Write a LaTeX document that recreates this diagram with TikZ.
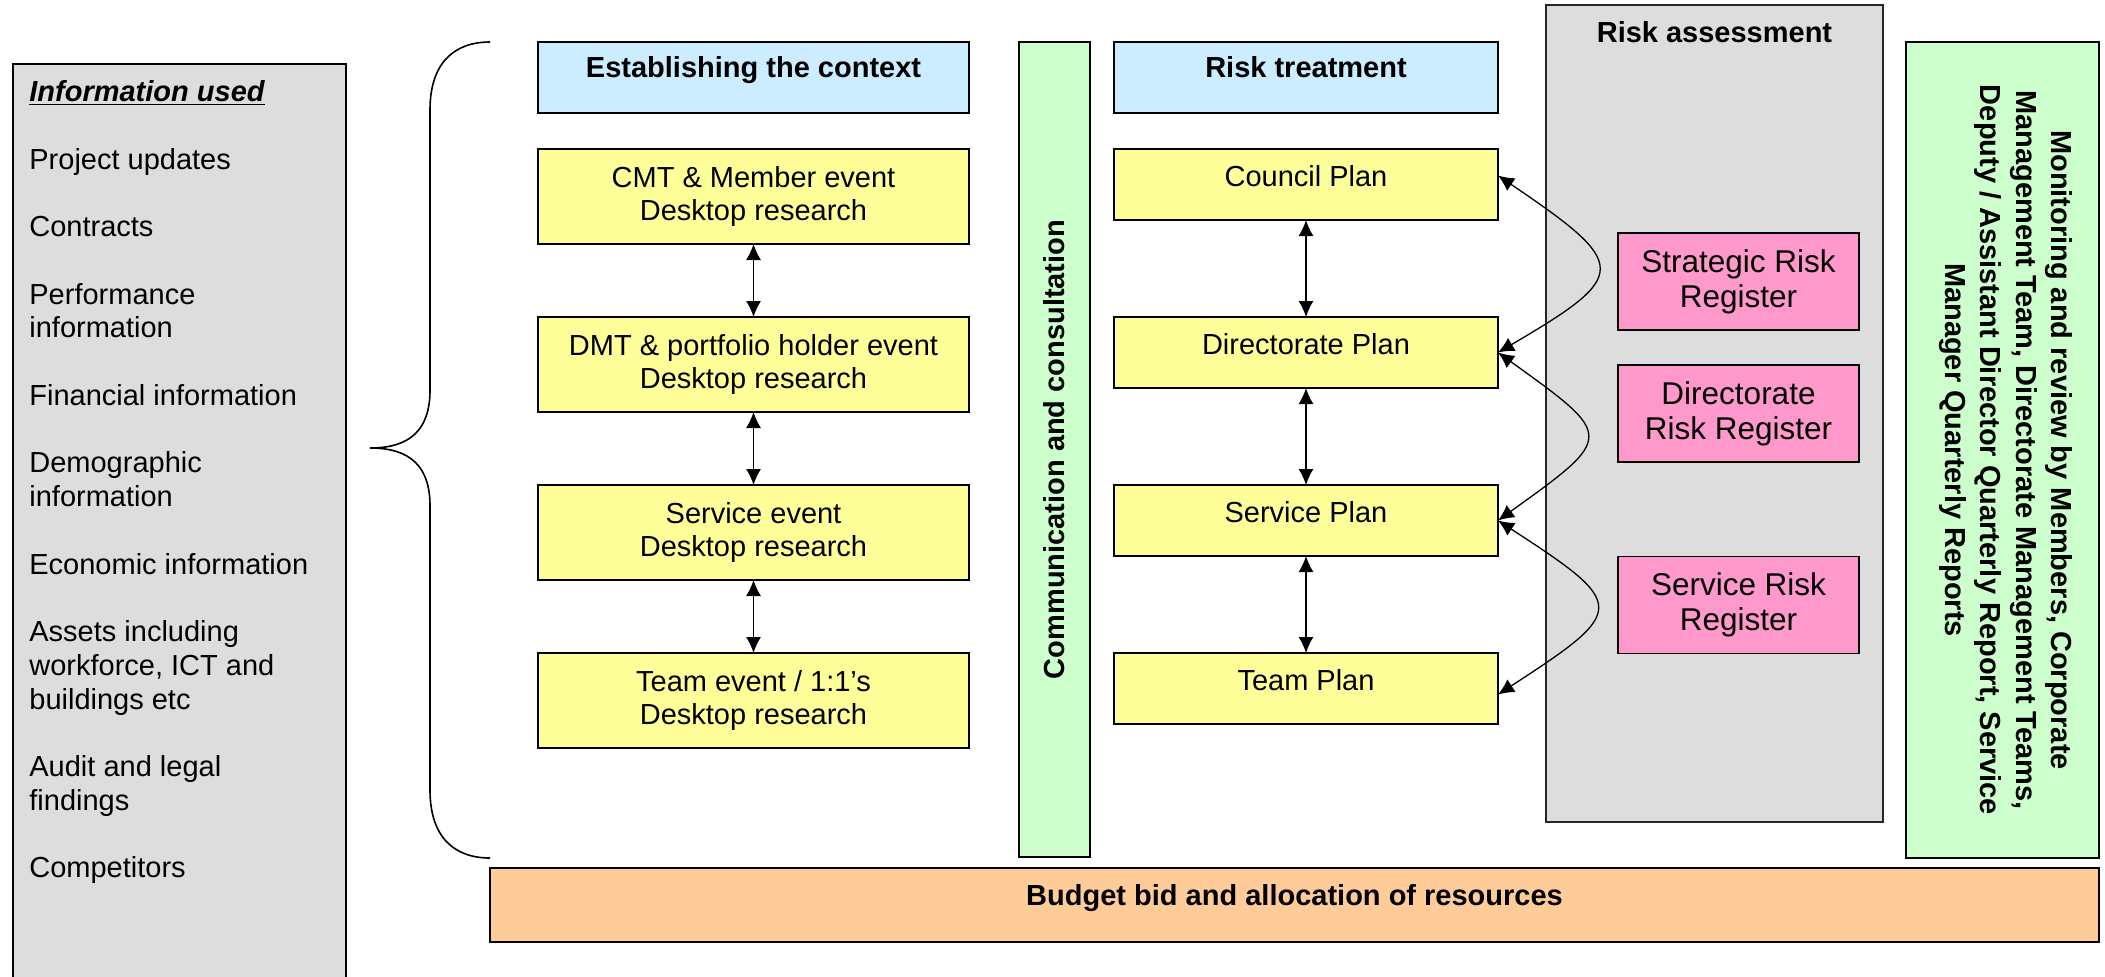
\documentclass[tikz,border=0pt]{standalone}
\usepackage{fontspec}
\setmainfont{Liberation Sans}
\usetikzlibrary{arrows.meta,calc}
\newdimen\pxu \pxu=0.5pt
\definecolor{cgrey}{RGB}{221,221,221}
\definecolor{cblue}{RGB}{204,236,255}
\definecolor{cyellow}{RGB}{255,255,153}
\definecolor{cgreen}{RGB}{204,255,204}
\definecolor{cpink}{RGB}{255,153,204}
\definecolor{corange}{RGB}{255,204,153}
\tikzset{
  basefont/.style={font=\fontsize{14.5}{16.875}\selectfont},
  boldfont/.style={font=\fontsize{14.5}{16.875}\selectfont\bfseries},
  box/.style={draw=black, line width=0.9pt, inner sep=0pt, outer sep=0pt, align=center, basefont},
  hdrbox/.style={box, fill=cblue, boldfont, text height=10pt, text depth=9.75pt, minimum height=71\pxu},
  evbox/.style={box, fill=cyellow, minimum width=431\pxu, minimum height=95\pxu},
  planbox/.style={box, fill=cyellow, minimum width=384\pxu, minimum height=71\pxu, text height=10pt, text depth=8.5pt},
  regbox/.style={box, fill=cpink, minimum width=241\pxu, minimum height=97\pxu, font=\fontsize{15.75}{17.5}\selectfont},
  itxt/.style={anchor=base west, inner sep=0pt, basefont},
  dbl/.style={{Latex[length=8pt,width=7.5pt]}-{Latex[length=8pt,width=7.5pt]}, line width=0.65pt},
}
\begin{document}
\begin{tikzpicture}[x=0.5pt,y=-0.5pt]
\useasboundingbox (0,0) rectangle (2105,976);

% information used
\node[box, fill=cgrey, minimum width=333\pxu, minimum height=926\pxu] (info) at (179.5,527) {};
\node[itxt] (info0) at (29,101.7) {\underline{\textbf{\textit{Information used}}}};
\foreach \k/\t [count=\n] in {2/{Project updates}, 4/{Contracts}, 6/{Performance}, 7/{information},
  9/{Financial information}, 11/{Demographic}, 12/{information}, 14/{Economic information},
  16/{Assets including}, 17/{workforce, ICT and}, 18/{buildings etc}, 20/{Audit and legal},
  21/{findings}, 23/{Competitors}}
  \node[itxt] (info\n) at (29,{101.7+33.75*\k}) {\t};

% brace
\draw[line width=0.8pt] (490,42) .. controls (455,42) and (430,62) .. (430,110) -- (430,390)
  .. controls (430,430) and (410,448) .. (370,448)
  .. controls (410,448) and (430,466) .. (430,506) -- (430,790)
  .. controls (430,838) and (455,858) .. (490,858);

% establishing the context
\node[hdrbox, minimum width=431\pxu] (estab) at (753.5,77.5) {Establishing the context};
\node[evbox] (cmt) at (753.5,196.5) {CMT \& Member event\\Desktop research};
\node[evbox] (dmt) at (753.5,364.5) {DMT \& portfolio holder event\\Desktop research};
\node[evbox] (sev) at (753.5,532.5) {Service event\\Desktop research};
\node[evbox] (tev) at (753.5,700.5) {Team event / 1:1’s\\Desktop research};
\draw[dbl] (cmt.south) -- (dmt.north);
\draw[dbl] (dmt.south) -- (sev.north);
\draw[dbl] (sev.south) -- (tev.north);

% communication
\node[box, fill=cgreen, boldfont, rotate=90, minimum width=815\pxu, minimum height=71\pxu] (comm) at (1054.5,449.5) {Communication and consultation};

% risk treatment
\node[hdrbox, minimum width=384\pxu] (treat) at (1306,77.5) {Risk treatment};
\node[planbox] (council) at (1306,184.5) {Council Plan};
\node[planbox] (direc) at (1306,352.5) {Directorate Plan};
\node[planbox] (splan) at (1306,520.5) {Service Plan};
\node[planbox] (tplan) at (1306,688.5) {Team Plan};
\draw[dbl] (council.south) -- (direc.north);
\draw[dbl] (direc.south) -- (splan.north);
\draw[dbl] (splan.south) -- (tplan.north);

% risk assessment
\node[box, fill=cgrey, draw=black!85, minimum width=337\pxu, minimum height=817\pxu] (riskA) at (1714.5,413.5) {};
\node[anchor=base, inner sep=0pt, boldfont] (riskT) at (1714.5,42) {Risk assessment};
\node[regbox] (srr) at (1738.5,281.5) {Strategic Risk\\Register};
\node[regbox] (drr) at (1738.5,413.5) {Directorate\\Risk Register};
\node[regbox] (svrr) at (1738.5,605) {Service Risk\\Register};

% curved links
\draw[dbl] ($(council.east)+(0,-9)$) .. controls (1630,265) and (1630,275) .. (direc.east);
\draw[dbl] (direc.east) .. controls (1615,436.5) and (1615,436.5) .. (splan.east);
\draw[dbl] (splan.east) .. controls (1628,605) and (1628,610) .. ($(tplan.east)+(0,6)$);

% monitoring
\node[box, fill=cgreen, minimum width=193\pxu, minimum height=816\pxu] (monitor) at (2002.5,450) {};
\node[inner sep=0pt, align=center, font=\fontsize{14.5}{17.75}\selectfont\bfseries, rotate=-90] (monitorT) at (2006,450)
  {Monitoring and review by Members, Corporate\\Management Team, Directorate Management Teams,\\Deputy / Assistant Director Quarterly Report, Service\\Manager Quarterly Reports};

% budget
\node[box, fill=corange, boldfont, text height=10pt, text depth=10pt, minimum width=1609\pxu, minimum height=74\pxu] (budget) at (1294.5,905) {Budget bid and allocation of resources};
\end{tikzpicture}
\end{document}
